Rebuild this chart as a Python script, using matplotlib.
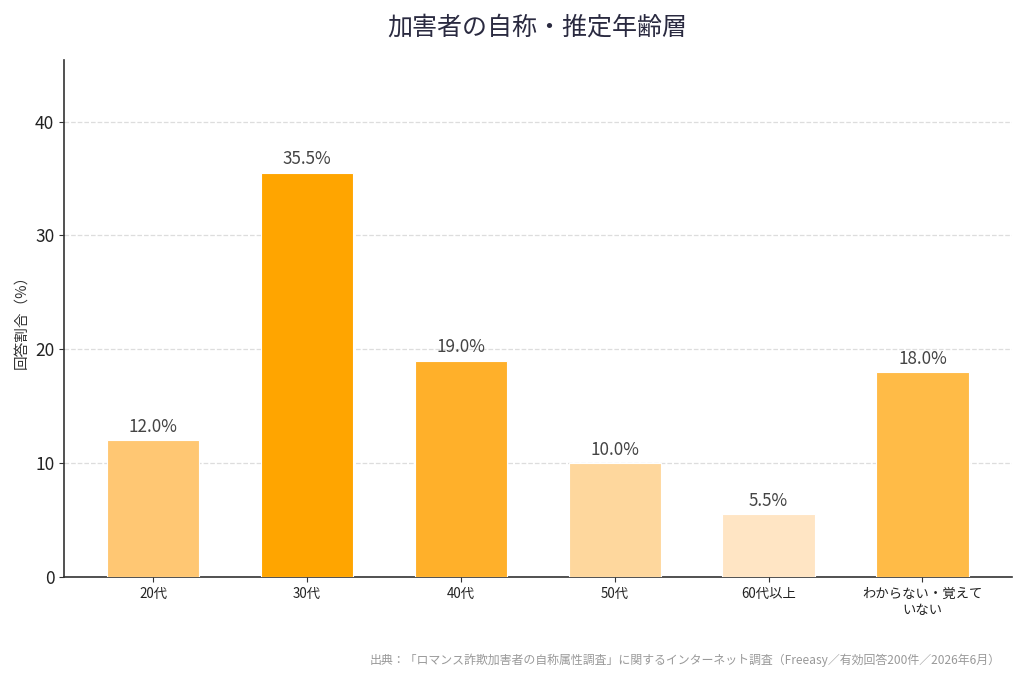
import matplotlib
matplotlib.use("Agg")
import matplotlib.pyplot as plt

plt.rcParams['font.family'] = ['Noto Sans CJK JP', 'DejaVu Sans']

categories = ["20代", "30代", "40代", "50代", "60代以上", "わからない・覚えて\nいない"]
values = [12.0, 35.5, 19.0, 10.0, 5.5, 18.0]
colors = ["#FFC773", "#FFA500", "#FFB02A", "#FED79D", "#FFE5C4", "#FFBB47"]
title = "加害者の自称・推定年齢層"
ylabel = "回答割合（%）"
source = "出典：「ロマンス詐欺加害者の自称属性調査」に関するインターネット調査（Freeasy／有効回答200件／2026年6月）"

fig = plt.figure(figsize=(10.24, 6.83), dpi=100)
ax = fig.add_axes([0.0625, 0.155, 0.9255, 0.757])

x = list(range(len(categories)))
bars = ax.bar(x, values, width=0.6, color=colors, edgecolor="white", linewidth=0.8, zorder=3)
for b, v in zip(bars, values):
    ax.text(b.get_x() + b.get_width() / 2, v + 0.4, f"{v:.1f}%", ha="center", va="bottom",
            fontsize=12.3, color="#444444", zorder=4)

ax.set_xlim(-0.58, 5.58)
ax.set_ylim(0, 45.4)
ax.set_yticks([0, 10, 20, 30, 40])
ax.set_xticks(x)
ax.set_xticklabels(categories, fontsize=9.6, color="#222222", linespacing=1.15)
ax.tick_params(axis="y", labelsize=12.5, colors="#222222")
ax.tick_params(axis="both", color="#333333")
ax.set_ylabel(ylabel, fontsize=10.5, color="#333333", labelpad=5)
ax.grid(axis="y", linestyle="--", color="#DDDDDD", linewidth=0.9, zorder=0)
ax.set_axisbelow(True)
for s in ["top", "right"]:
    ax.spines[s].set_visible(False)
for s in ["left", "bottom"]:
    ax.spines[s].set_color("#333333")
    ax.spines[s].set_linewidth(1.2)

fig.text(0.525, 0.959, title, ha="center", va="center", fontsize=18, color="#2A2A40")
fig.text(0.977, 0.034, source, ha="right", va="center", fontsize=8.6, color="#999999")

fig.savefig("out.png", dpi=100)
